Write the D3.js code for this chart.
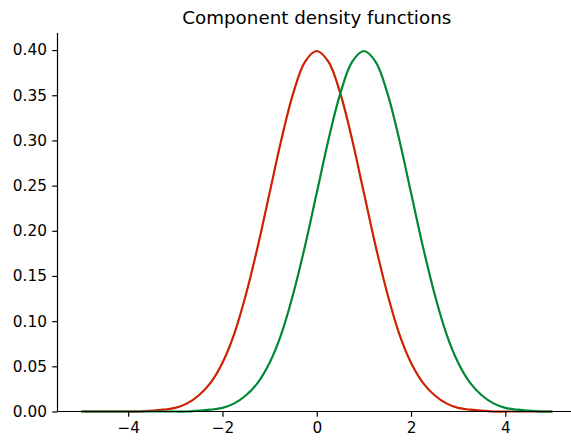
<!DOCTYPE html>
<html>
<head>
<meta charset="utf-8">
<script src="https://cdn.jsdelivr.net/npm/d3@7"></script>
<style>
body { margin: 0; background: white; }
svg { font-family: "DejaVu Sans", sans-serif; }
</style>
</head>
<body>
<svg id="chart"></svg>
<script>
var width = 571
var height = 442

// x positions the curves were read at
var xValues = [-5, -4.75, -4.5, -4.25, -4, -3.75, -3.5, -3.25, -3, -2.75,
	-2.5, -2.25, -2, -1.75, -1.5, -1.25, -1, -0.75, -0.5, -0.25,
	0, 0.25, 0.5, 0.75, 1, 1.25, 1.5, 1.75, 2, 2.25,
	2.5, 2.75, 3, 3.25, 3.5, 3.75, 4, 4.25, 4.5, 4.75, 5]

// red component
var redValues = [0, 0, 0, 0, 0, 0, 0.001, 0.002, 0.004, 0.009,
	0.018, 0.032, 0.054, 0.086, 0.130, 0.183, 0.242, 0.301, 0.352, 0.387,
	0.399, 0.387, 0.352, 0.301, 0.242, 0.183, 0.130, 0.086, 0.054, 0.032,
	0.018, 0.009, 0.004, 0.002, 0.001, 0, 0, 0, 0, 0, 0]

// green component
var greenValues = [0, 0, 0, 0, 0, 0, 0, 0, 0, 0,
	0.001, 0.002, 0.004, 0.009, 0.018, 0.032, 0.054, 0.086, 0.130, 0.183,
	0.242, 0.301, 0.352, 0.387, 0.399, 0.387, 0.352, 0.301, 0.242, 0.183,
	0.130, 0.086, 0.054, 0.032, 0.018, 0.009, 0.004, 0.002, 0.001, 0, 0]

var xTicks = [-4, -2, 0, 2, 4]
var yTicks = [0, 0.05, 0.10, 0.15, 0.20, 0.25, 0.30, 0.35, 0.40]

var svg = d3.select("#chart")
	.attr("width", width)
	.attr("height", height)

var plotLeft = 57.5, plotRight = 576, plotTop = 33, plotBottom = 411.5
var tickLen = 5.3

var xScale = d3.scaleLinear()
	.domain([-5.5, 5.5])
	.range([plotLeft, plotRight])

var yScale = d3.scaleLinear()
	.domain([0, 0.4189])
	.range([plotBottom, plotTop])

var line = d3.line()
	.x(function(d){ return xScale(d.x) })
	.y(function(d){ return yScale(d.y) })
	.curve(d3.curveCatmullRom.alpha(0.5))

var series = [
	{color: "#cc2200", values: redValues},
	{color: "#008833", values: greenValues}
]

series.forEach(function(s){
	var pts = xValues.map(function(x, i){ return {x: x, y: s.values[i]} })
	svg.append("path")
		.datum(pts)
		.attr("fill", "none")
		.attr("stroke", s.color)
		.attr("stroke-width", 2.2)
		.attr("d", line)
})

var fmtX = function(d){ return d < 0 ? "\u2212" + Math.abs(d) : d }

var xAxis = svg.append("g")
	.attr("transform", "translate(0," + plotBottom + ")")
	.call(d3.axisBottom(xScale).tickValues(xTicks).tickFormat(fmtX).tickSize(tickLen).tickPadding(tickLen))

var yAxis = svg.append("g")
	.attr("transform", "translate(" + plotLeft + ",0)")
	.call(d3.axisLeft(yScale).tickValues(yTicks).tickFormat(d3.format(".2f")).tickSize(tickLen).tickPadding(tickLen))

svg.selectAll(".domain").remove()
xAxis.append("line").attr("x1", plotLeft).attr("x2", plotRight).attr("stroke", "black").attr("stroke-width", 1.2)
yAxis.append("line").attr("y1", plotTop).attr("y2", plotBottom).attr("stroke", "black").attr("stroke-width", 1.2)

svg.selectAll("g").attr("font-family", "DejaVu Sans").attr("font-size", 15.3)
svg.selectAll(".tick line").attr("stroke-width", 1.2)
svg.selectAll(".tick text").attr("fill", "black")

svg.append("text")
	.attr("x", (plotLeft + plotRight) / 2)
	.attr("y", 24)
	.attr("text-anchor", "middle")
	.attr("font-size", 18.3)
	.text("Component density functions")
</script>
</body>
</html>
